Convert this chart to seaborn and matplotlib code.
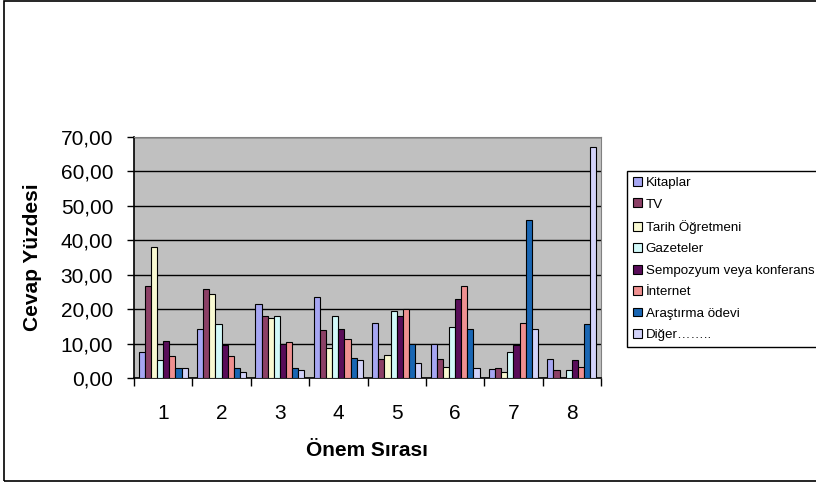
import matplotlib
import matplotlib.pyplot as plt
import numpy as np
import pandas as pd
import seaborn as sns
from matplotlib.patches import Rectangle

matplotlib.use("Agg")

# rank (x categories)
ranks = ["1", "2", "3", "4", "5", "6", "7", "8"]
sources = [
    "Kitaplar",
    "TV",
    "Tarih Öğretmeni",
    "Gazeteler",
    "Sempozyum veya konferans",
    "İnternet",
    "Araştırma ödevi",
    "Diğer……..",
]
kitaplar = [7.5, 14.1, 21.4, 23.4, 16.0, 9.9, 2.5, 5.4]
tv = [26.7, 25.8, 18.0, 13.8, 5.4, 5.4, 3.0, 2.2]
tarih = [38.0, 24.4, 17.4, 8.7, 6.6, 3.3, 1.8, 0.0]
gazeteler = [5.1, 15.7, 18.0, 18.0, 19.4, 14.7, 7.5, 2.2]
sempozyum = [10.8, 9.7, 9.9, 14.1, 18.0, 23.0, 9.7, 5.1]
internet = [6.3, 6.3, 10.6, 11.4, 20.0, 26.8, 16.0, 3.3]
arastirma = [3.0, 3.0, 3.0, 5.7, 9.9, 14.1, 46.0, 15.7]
diger = [3.0, 1.8, 2.2, 5.2, 4.4, 3.0, 14.1, 67.0]
yticks = np.arange(0, 71, 10)

palette = ["#9999FF", "#993366", "#FFFFCC", "#CCFFFF",
           "#660066", "#FF8080", "#0066CC", "#CCCCFF"]

series = [kitaplar, tv, tarih, gazeteler, sempozyum, internet, arastirma, diger]
frame = pd.DataFrame(
    [(r, s, v) for s, vals in zip(sources, series) for r, v in zip(ranks, vals)],
    columns=["rank", "source", "value"],
)

plt.rcParams["font.family"] = ["Liberation Sans", "DejaVu Sans"]

W, H = 816, 486
fig = plt.figure(figsize=(W / 100, H / 100), dpi=100)
ax = fig.add_axes([134 / W, 108 / H, 467 / W, 241 / H])
ax.set_facecolor("#C0C0C0")

sns.barplot(
    data=frame, x="rank", y="value", hue="source", order=ranks,
    hue_order=sources, palette=palette, width=0.84, gap=0,
    edgecolor="black", linewidth=0.8, ax=ax, zorder=3,
)

ax.set_ylim(0, 70)
ax.set_xlim(-0.5, 7.5)
ax.set_yticks(yticks)
ax.set_yticklabels([f"{t:.2f}".replace(".", ",") for t in yticks], fontsize=15)
ax.yaxis.grid(True, color="black", linewidth=1.0)
ax.set_axisbelow(True)
ax.tick_params(axis="y", length=5, width=1, pad=10)

ax.set_xticks(np.arange(8))
ax.set_xticklabels(ranks, fontsize=15)
ax.set_xticks(np.arange(-0.5, 8, 1), minor=True)
ax.tick_params(axis="x", which="major", length=0, pad=19)
ax.tick_params(axis="x", which="minor", length=6, width=1)

for side in ("top", "right"):
    ax.spines[side].set_color("#808080")
for side in ("left", "bottom"):
    ax.spines[side].set_color("black")
    ax.spines[side].set_linewidth(1.2)

ax.set_xlabel("Önem Sırası", fontsize=15, fontweight="bold")
ax.set_ylabel("Cevap Yüzdesi", fontsize=15, fontweight="bold")
ax.xaxis.set_label_coords(0.5, -0.26)
ax.yaxis.set_label_coords(-0.197, 0.5)

handles, labels = ax.get_legend_handles_labels()
ax.legend(
    handles, labels, loc="upper left",
    bbox_to_anchor=(627 / W, 1 - 171 / H), bbox_transform=fig.transFigure,
    fontsize=9.6, frameon=True, fancybox=False, edgecolor="black",
    framealpha=1, handlelength=0.65, handleheight=0.65, handletextpad=0.3,
    labelspacing=0.7, borderpad=0.45, borderaxespad=0,
)
ax.get_legend().get_frame().set_linewidth(1.0)

fig.add_artist(Rectangle((4 / W, 5 / H), 1.0, 480 / H, transform=fig.transFigure,
                         fill=False, edgecolor="black", linewidth=1.2))

fig.savefig("out.png", dpi=100)
